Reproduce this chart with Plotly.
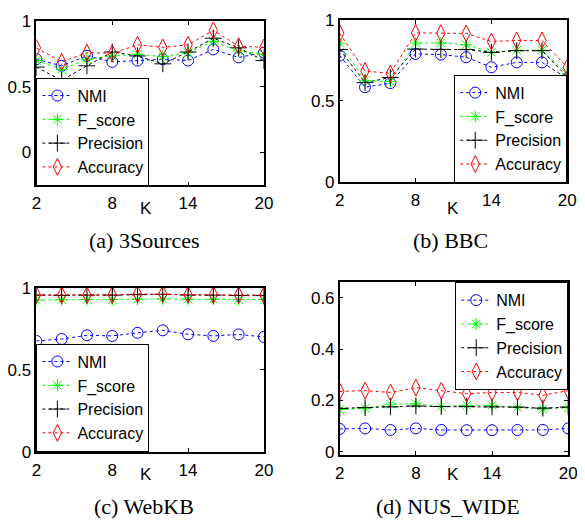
import plotly.graph_objects as go

K = [2, 4, 6, 8, 10, 12, 14, 16, 18, 20]
x_ticks = [2, 8, 14, 20]

# (a) 3Sources
a_nmi = [0.71, 0.66, 0.736, 0.69, 0.70, 0.71, 0.70, 0.785, 0.724, 0.76]
a_f = [0.70, 0.633, 0.71, 0.735, 0.748, 0.73, 0.76, 0.846, 0.773, 0.748]
a_prec = [0.65, 0.55, 0.66, 0.765, 0.735, 0.675, 0.765, 0.87, 0.797, 0.70]
a_acc = [0.797, 0.69, 0.76, 0.755, 0.82, 0.80, 0.82, 0.93, 0.81, 0.80]

# (b) BBC
b_nmi = [0.78, 0.585, 0.61, 0.79, 0.786, 0.77, 0.708, 0.738, 0.738, 0.64]
b_f = [0.857, 0.625, 0.62, 0.857, 0.858, 0.847, 0.80, 0.813, 0.813, 0.667]
b_prec = [0.817, 0.613, 0.645, 0.82, 0.818, 0.817, 0.80, 0.81, 0.81, 0.649]
b_acc = [0.917, 0.685, 0.67, 0.92, 0.918, 0.917, 0.867, 0.873, 0.873, 0.708]

# (c) WebKB
c_nmi = [0.675, 0.687, 0.71, 0.706, 0.725, 0.74, 0.716, 0.706, 0.715, 0.70]
c_f = [0.925, 0.927, 0.928, 0.928, 0.93, 0.932, 0.93, 0.93, 0.928, 0.928]
c_prec = [0.955, 0.953, 0.955, 0.955, 0.958, 0.96, 0.956, 0.955, 0.953, 0.953]
c_acc = [0.955, 0.955, 0.955, 0.957, 0.962, 0.962, 0.958, 0.957, 0.955, 0.955]

# (d) NUS_WIDE
d_nmi = [0.089, 0.091, 0.085, 0.091, 0.085, 0.084, 0.084, 0.085, 0.085, 0.091]
d_f = [0.164, 0.169, 0.185, 0.187, 0.176, 0.181, 0.181, 0.172, 0.166, 0.172]
d_prec = [0.169, 0.172, 0.175, 0.178, 0.176, 0.176, 0.175, 0.174, 0.17, 0.174]
d_acc = [0.235, 0.238, 0.231, 0.25, 0.238, 0.226, 0.231, 0.231, 0.22, 0.238]

captions = ["(a) 3Sources", "(b) BBC", "(c) WebKB", "(d) NUS_WIDE"]
series_names = ["NMI", "F_score", "Precision", "Accuracy"]
x_title = "K"

# the page body has an 8px default margin; figure coordinates = page coordinates - 8
OFF = 8
W, H = 585 - OFF, 529 - OFF

panels = [
    dict(data=[a_nmi, a_f, a_prec, a_acc], yrange=[-0.25, 1], yticks=[0, 0.5, 1],
         xdom=[30, 264], ydom=[12.3, 182.7], legend=dict(x=30, y=183, xa="left", ya="bottom"),
         ktxt=(143, 207), cap=(141, 240)),
    dict(data=[b_nmi, b_f, b_prec, b_acc], yrange=[0, 1], yticks=[0, 0.5, 1],
         xdom=[342, 576], ydom=[11, 179.3], legend=dict(x=576, y=180, xa="right", ya="bottom"),
         ktxt=(458, 207), cap=(456, 240)),
    dict(data=[c_nmi, c_f, c_prec, c_acc], yrange=[0, 1], yticks=[0, 0.5, 1],
         xdom=[30, 264], ydom=[289, 459], legend=dict(x=30, y=459, xa="left", ya="bottom"),
         ktxt=(143, 483), cap=(141, 516)),
    dict(data=[d_nmi, d_f, d_prec, d_acc], yrange=[-0.013, 0.66], yticks=[0, 0.2, 0.4, 0.6],
         xdom=[342, 577], ydom=[283.3, 462.7], legend=dict(x=577, y=283.3, xa="right", ya="top"),
         ktxt=(458, 483), cap=(453, 516)),
]

colors = ["#0000ff", "#00ff00", "#000000", "#ff0000"]
symbols = ["circle-open", "asterisk-open", "cross-thin-open", "diamond-tall-open"]
sizes = [11, 10, 12, 12]

SANS = "Liberation Sans, Arial, sans-serif"
SERIF = "Liberation Serif, Times New Roman, serif"


def px(v):
    return v - OFF


fig = go.Figure()
layout = dict(width=W, height=H, margin=dict(l=0, r=0, t=0, b=0, pad=0), autosize=False,
              paper_bgcolor="white", plot_bgcolor="white", showlegend=True)
annotations = []

for i, p in enumerate(panels):
    n = i + 1
    xa = "xaxis" if n == 1 else f"xaxis{n}"
    ya = "yaxis" if n == 1 else f"yaxis{n}"
    xr = "x" if n == 1 else f"x{n}"
    yr = "y" if n == 1 else f"y{n}"
    lg = "legend" if n == 1 else f"legend{n}"
    for j, vals in enumerate(p["data"]):
        fig.add_trace(go.Scatter(
            x=K, y=vals, name=series_names[j], mode="lines+markers",
            xaxis=xr, yaxis=yr, legend=lg,
            line=dict(color=colors[j], width=1, dash="dot"),
            marker=dict(symbol=symbols[j], size=sizes[j], color=colors[j],
                        line=dict(color=colors[j], width=1)),
        ))
    layout[xa] = dict(domain=[px(p["xdom"][0]) / W, px(p["xdom"][1]) / W], range=[2, 20],
                      anchor=yr, tickvals=x_ticks, ticktext=[str(t) for t in x_ticks],
                      ticks="inside", ticklen=4, tickcolor="black", mirror="ticks",
                      showline=True, linecolor="black", linewidth=1.5, showgrid=False,
                      zeroline=False, tickfont=dict(family=SANS, size=17, color="black"),
                      ticklabelstandoff=2)
    layout[ya] = dict(domain=[1 - px(p["ydom"][1]) / H, 1 - px(p["ydom"][0]) / H],
                      range=p["yrange"], anchor=xr, tickvals=p["yticks"],
                      ticktext=[f"{t:g}" for t in p["yticks"]],
                      ticks="inside", ticklen=4, tickcolor="black", mirror="ticks",
                      showline=True, linecolor="black", linewidth=1.5, showgrid=False,
                      zeroline=False, tickfont=dict(family=SANS, size=17, color="black"),
                      ticklabelstandoff=0)
    L = p["legend"]
    layout[lg] = dict(x=px(L["x"]) / W, y=1 - px(L["y"]) / H, xanchor=L["xa"], yanchor=L["ya"],
                      bgcolor="white", bordercolor="black", borderwidth=1,
                      font=dict(family=SANS, size=16, color="black"),
                      itemwidth=30, tracegroupgap=0, itemsizing="trace")
    annotations.append(dict(text=x_title, xref="paper", yref="paper",
                            x=px(p["ktxt"][0]) / W, y=1 - px(p["ktxt"][1]) / H,
                            xanchor="center", yanchor="middle", showarrow=False,
                            font=dict(family=SANS, size=17, color="black")))
    annotations.append(dict(text=captions[i], xref="paper", yref="paper",
                            x=px(p["cap"][0]) / W, y=1 - px(p["cap"][1]) / H,
                            xanchor="center", yanchor="middle", showarrow=False,
                            font=dict(family=SERIF, size=22, color="black")))

layout["annotations"] = annotations
fig.update_layout(**layout)
fig.write_html("out.html")
